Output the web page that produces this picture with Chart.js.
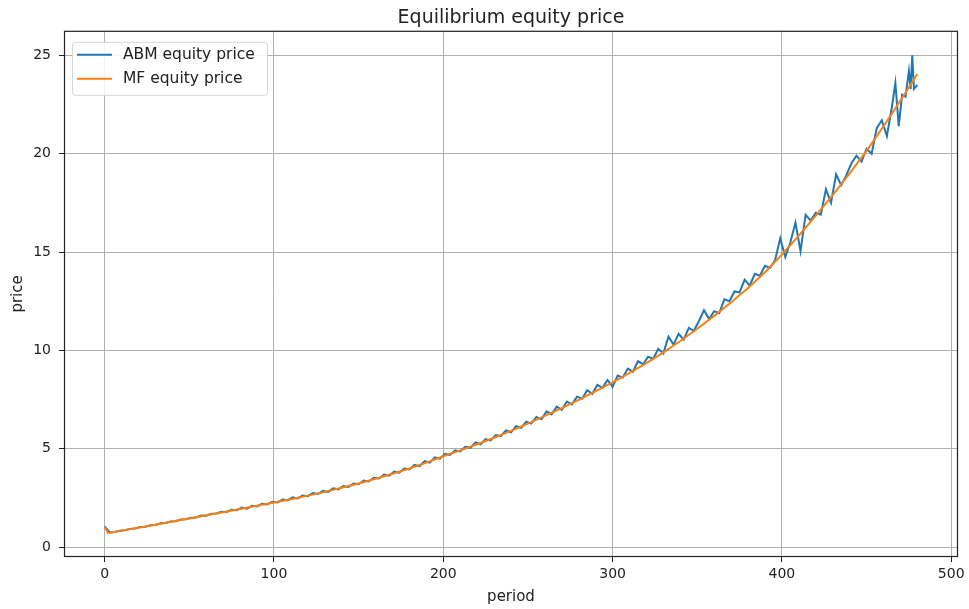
<!DOCTYPE html>
<html>
<head>
<meta charset="utf-8">
<title>Equilibrium equity price</title>
<script src="https://cdn.jsdelivr.net/npm/chart.js@4/dist/chart.umd.min.js"></script>
<style>
  html, body { margin: 0; padding: 0; background: #fff; }
  #wrap { width: 969px; height: 609px; }
</style>
</head>
<body>
<div id="wrap"><canvas id="chart-price" width="969" height="609"></canvas></div>
<script>
'use strict';

// values
var mfPeriods = [0, 1, 2, 3, 10, 20, 30, 40, 50, 60, 70, 80, 90, 100, 110, 120, 130, 140, 150, 160,
  170, 180, 190, 200, 210, 220, 230, 240, 250, 260, 270, 280, 290, 300, 310, 320, 330, 340, 350, 360,
  370, 380, 390, 400, 410, 420, 430, 440, 450, 460, 470, 480];
var mfPrice = [1.02, 0.88, 0.72, 0.73, 0.84, 0.99, 1.14, 1.3, 1.46, 1.62, 1.78, 1.94, 2.1, 2.27, 2.44, 2.62, 2.81, 3.02, 3.24, 3.48,
  3.73, 4.0, 4.3, 4.62, 4.92, 5.23, 5.56, 5.91, 6.28, 6.67, 7.07, 7.49, 7.93, 8.38, 8.86, 9.36, 9.9, 10.48, 11.1, 11.76,
  12.45, 13.18, 13.98, 14.88, 15.84, 16.85, 17.9, 19.0, 20.15, 21.4, 22.7, 24.05];

var abmPeriods = [
  0, 3, 6, 9, 12, 15, 18, 21, 24, 27,
  30, 33, 36, 39, 42, 45, 48, 51, 54, 57,
  60, 63, 66, 69, 72, 75, 78, 81, 84, 87,
  90, 93, 96, 99, 102, 105, 108, 111, 114, 117,
  120, 123, 126, 129, 132, 135, 138, 141, 144, 147,
  150, 153, 156, 159, 162, 165, 168, 171, 174, 177,
  180, 183, 186, 189, 192, 195, 198, 201, 204, 207,
  210, 213, 216, 219, 222, 225, 228, 231, 234, 237,
  240, 243, 246, 249, 252, 255, 258, 261, 264, 267,
  270, 273, 276, 279, 282, 285, 288, 291, 294, 297,
  300, 303, 306, 309, 312, 315, 318, 321, 324, 327,
  330, 333, 336, 339, 342, 345, 348, 351, 354, 357,
  360, 363, 366, 369, 372, 375, 378, 381, 384, 387,
  390, 393, 396, 399, 402, 405, 408, 411, 414, 417,
  420, 423, 426, 429, 432, 435, 438, 441, 444, 447,
  450, 453, 456, 459, 462, 465,
  467, 469, 471, 473, 475, 476, 477, 478, 480];
var abmPrice = [
  1.06, 0.75, 0.77, 0.84, 0.86, 0.93, 0.95, 1.02, 1.04, 1.12,
  1.13, 1.21, 1.23, 1.31, 1.32, 1.41, 1.42, 1.5, 1.51, 1.61,
  1.6, 1.7, 1.71, 1.8, 1.79, 1.9, 1.88, 2.01, 1.95, 2.1,
  2.07, 2.21, 2.17, 2.31, 2.27, 2.42, 2.38, 2.53, 2.48, 2.62,
  2.59, 2.75, 2.7, 2.86, 2.81, 2.99, 2.94, 3.11, 3.06, 3.24,
  3.2, 3.39, 3.34, 3.53, 3.49, 3.69, 3.63, 3.84, 3.79, 4.0,
  3.95, 4.19, 4.12, 4.37, 4.3, 4.57, 4.5, 4.74, 4.69, 4.92,
  4.87, 5.1, 5.05, 5.32, 5.23, 5.49, 5.43, 5.7, 5.64, 5.93,
  5.84, 6.15, 6.07, 6.38, 6.28, 6.62, 6.5, 6.9, 6.75, 7.14,
  6.98, 7.4, 7.26, 7.65, 7.55, 7.98, 7.8, 8.25, 8.1, 8.5,
  8.15, 8.72, 8.62, 9.08, 8.92, 9.45, 9.3, 9.68, 9.58, 10.08,
  9.85, 10.7, 10.3, 10.85, 10.55, 11.15, 11.0, 11.5, 12.05, 11.6,
  12.0, 11.9, 12.6, 12.5, 13.0, 12.95, 13.6, 13.3, 13.9, 13.8,
  14.3, 14.2, 14.6, 15.7, 14.75, 15.5, 16.5, 15.05, 16.9, 16.6,
  17.0, 16.9, 18.2, 17.5, 18.95, 18.4, 18.9, 19.5, 19.9, 19.6,
  20.25, 20.0, 21.3, 21.7, 20.9, 22.4,
  23.6, 21.4, 23.0, 22.9, 24.2, 23.3, 25.0, 23.3, 23.5];

var xTicks = [0, 100, 200, 300, 400, 500];
var yTicks = [0, 5, 10, 15, 20, 25];
var seriesNames = ['ABM equity price', 'MF equity price'];

var BLUE = '#1f77b4';
var ORANGE = '#ff7f0e';
var FONT = "'DejaVu Sans', 'Liberation Sans', sans-serif";

function toPoints(xs, ys) {
  return xs.map(function(x, i) { return { x: x, y: ys[i] }; });
}

// matplotlib style frame round the axes
var frame = {
  id: 'frame',
  afterDatasetsDraw: function(chart) {
    var a = chart.chartArea, ctx = chart.ctx;
    ctx.save();
    ctx.strokeStyle = '#222';
    ctx.lineWidth = 1.2;
    ctx.strokeRect(a.left + 0.5, a.top + 0.5, a.right - a.left - 1, a.bottom - a.top - 1);
    ctx.restore();
  }
};

// legend box in the upper left corner
var boxLegend = {
  id: 'boxLegend',
  afterDraw: function(chart) {
    var a = chart.chartArea, ctx = chart.ctx;
    var x = a.left + 8, y = a.top + 11, w = 195, h = 53;
    ctx.save();
    ctx.fillStyle = 'rgba(255,255,255,0.85)';
    ctx.strokeStyle = '#d6d6d6';
    ctx.lineWidth = 1;
    ctx.beginPath();
    ctx.roundRect(x + 0.5, y + 0.5, w, h, 3);
    ctx.fill();
    ctx.stroke();
    var colors = [BLUE, ORANGE];
    ctx.font = '15.5px ' + FONT;
    ctx.textBaseline = 'middle';
    for (var i = 0; i < seriesNames.length; i++) {
      var ly = y + 13 + i * 24;
      ctx.strokeStyle = colors[i];
      ctx.lineWidth = 2;
      ctx.beginPath();
      ctx.moveTo(x + 5, ly);
      ctx.lineTo(x + 40, ly);
      ctx.stroke();
      ctx.fillStyle = '#222';
      ctx.fillText(seriesNames[i], x + 51, ly);
    }
    ctx.restore();
  }
};

var ctx = document.getElementById('chart-price');
new Chart(ctx, {
  type: 'line',
  data: {
    datasets: [{
      label: seriesNames[1],
      data: toPoints(mfPeriods, mfPrice),
      borderColor: ORANGE,
      borderWidth: 2,
      pointRadius: 0,
      tension: 0,
      order: 0
    }, {
      label: seriesNames[0],
      data: toPoints(abmPeriods, abmPrice),
      borderColor: BLUE,
      borderWidth: 2,
      pointRadius: 0,
      tension: 0,
      order: 1
    }]
  },
  options: {
    responsive: false,
    animation: false,
    devicePixelRatio: 1,
    layout: { padding: { left: 0, right: 11, top: 0, bottom: 0 } },
    plugins: {
      legend: { display: false },
      tooltip: { enabled: false },
      title: {
        display: true,
        text: 'Equilibrium equity price',
        fullSize: false,
        color: '#222',
        font: { family: FONT, size: 19, weight: 'normal' },
        padding: { top: 7, bottom: 1 }
      }
    },
    scales: {
      x: {
        type: 'linear',
        min: -24,
        max: 504,
        afterBuildTicks: function(s) { s.ticks = xTicks.map(function(v) { return { value: v }; }); },
        afterFit: function(s) { s.height = 52; },
        grid: { color: '#b0b0b0', lineWidth: 1, tickColor: '#222', tickLength: 5, tickWidth: 1 },
        border: { display: false },
        ticks: { color: '#222', padding: 4, maxRotation: 0, font: { family: FONT, size: 14 } },
        title: { display: true, text: 'period', color: '#222', padding: { top: 0, bottom: 3 }, font: { family: FONT, size: 15 } }
      },
      y: {
        min: -0.5,
        max: 26.25,
        afterBuildTicks: function(s) { s.ticks = yTicks.map(function(v) { return { value: v }; }); },
        afterFit: function(s) { s.width = 64; },
        grid: { color: '#b0b0b0', lineWidth: 1, tickColor: '#222', tickLength: 5, tickWidth: 1 },
        border: { display: false },
        ticks: { color: '#222', padding: 8, font: { family: FONT, size: 14 } },
        title: { display: true, text: 'price', color: '#222', padding: { top: 9.5, bottom: 0 }, font: { family: FONT, size: 15 } }
      }
    }
  },
  plugins: [frame, boxLegend]
});
</script>
</body>
</html>
